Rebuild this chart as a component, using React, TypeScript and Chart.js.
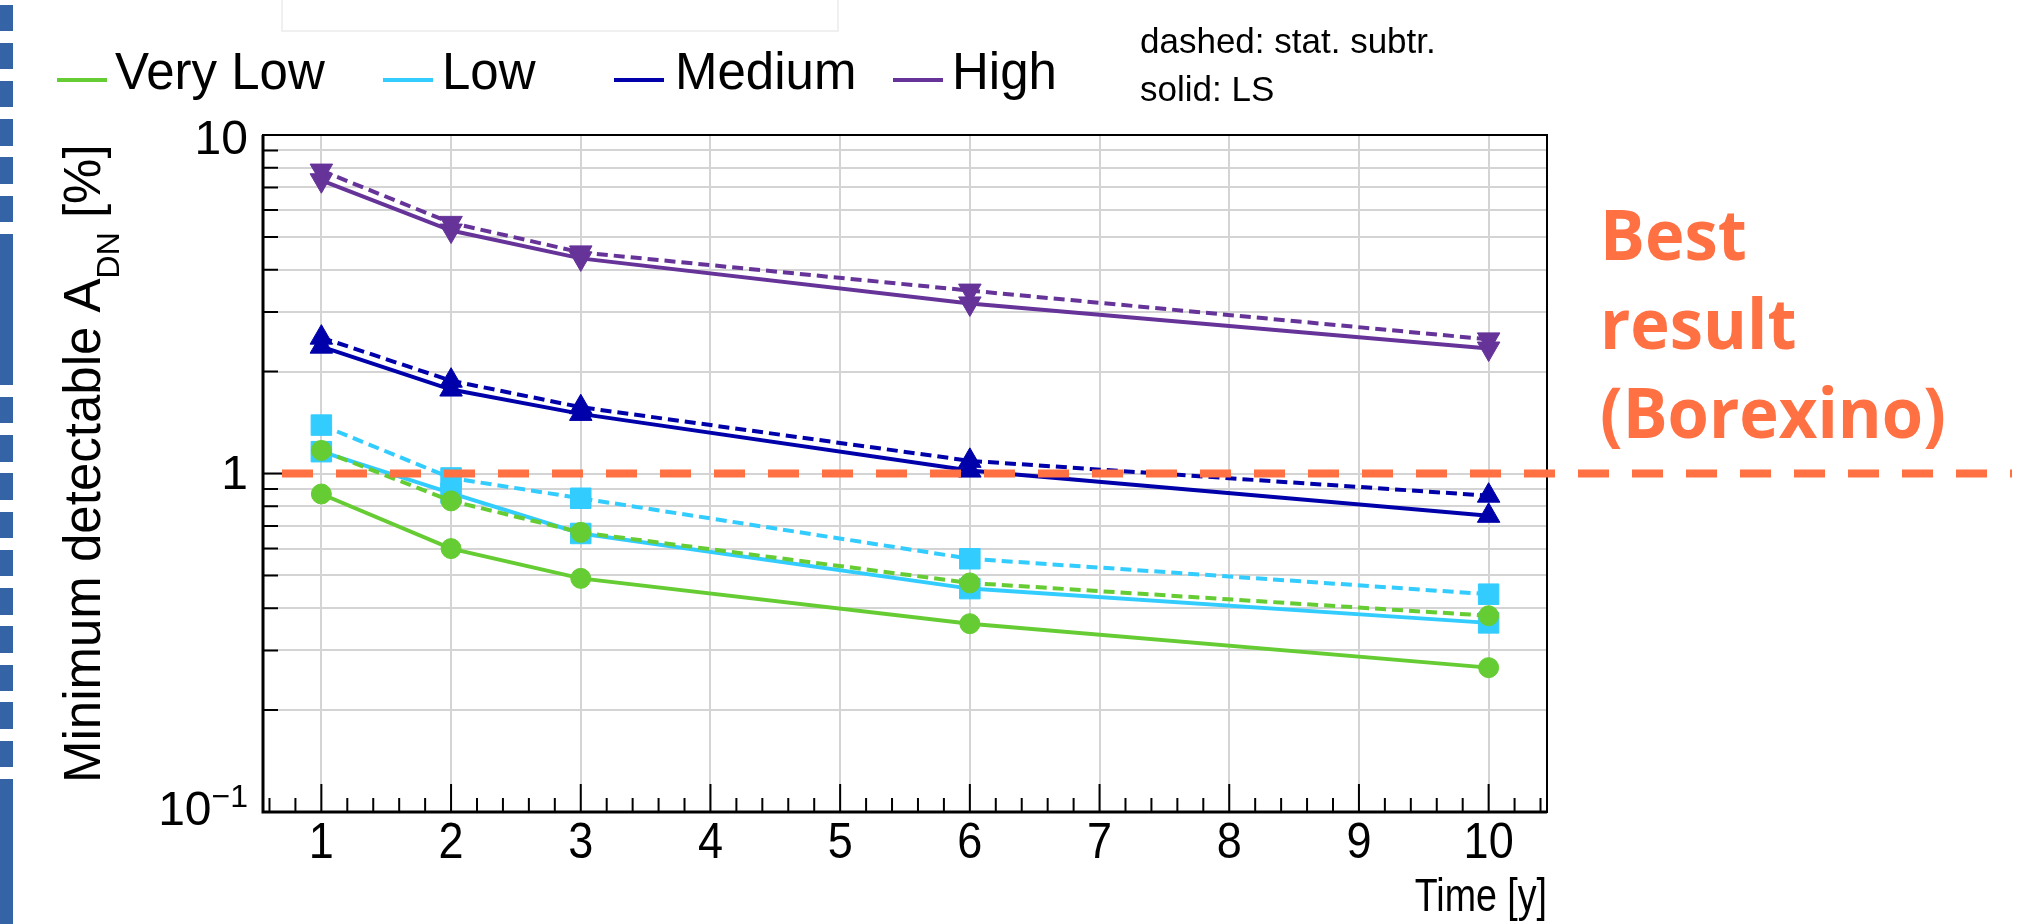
import React, { useEffect, useRef } from "react";
import { Chart, registerables } from "chart.js";

Chart.register(...registerables);

// ---------------- data ----------------
const years = [1, 2, 3, 6, 10];

const seriesNames = ["Very Low", "Low", "Medium", "High"];
const seriesColors = ["#66CC33", "#33CCFF", "#0000AA", "#663399"];

// solid: LS
const veryLowLS = [0.87, 0.6, 0.49, 0.36, 0.267];
const lowLS = [1.16, 0.875, 0.665, 0.457, 0.362];
const mediumLS = [2.37, 1.77, 1.5, 1.02, 0.75];
const highLS = [7.35, 5.22, 4.32, 3.18, 2.34];

// dashed: stat. subtr.
const veryLowStat = [1.17, 0.83, 0.67, 0.475, 0.38];
const lowStat = [1.39, 0.97, 0.845, 0.56, 0.44];
const mediumStat = [2.52, 1.88, 1.57, 1.09, 0.86];
const highStat = [7.85, 5.5, 4.5, 3.47, 2.49];

const xTickValues = [1, 2, 3, 4, 5, 6, 7, 8, 9, 10];
const xTickLabels = ["1", "2", "3", "4", "5", "6", "7", "8", "9", "10"];
const yGridValues = [
  0.1, 0.2, 0.3, 0.4, 0.5, 0.6, 0.7, 0.8, 0.9, 1, 2, 3, 4, 5, 6, 7, 8, 9, 10,
];
const yTickValues = [0.1, 1, 10];
const yTickText = ["10", "1", "10"];
const yTickSup = ["\u22121", "", ""];

const referenceValue = 1;
const referenceText = ["Best", "result", "(Borexino)"];
const yTitle = ["Minimum detectable A", "DN", " [%]"];
const xTitle = "Time [y]";
const notes = ["dashed: stat. subtr.", "solid: LS"];

const FONT = "'Liberation Sans', Arial, Helvetica, sans-serif";
const ORANGE = "#FF7043";

const W = 2027;
const H = 924;

const overlay = {
  id: "overlay",
  afterDatasetsDraw(chart: any) {
    const ctx = chart.ctx;
    const xs = chart.scales.x;
    const ys = chart.scales.y;
    const ca = chart.chartArea;
    ctx.save();

    // frame
    ctx.strokeStyle = "#000";
    ctx.lineWidth = 2;
    ctx.strokeRect(ca.left, ca.top, ca.right - ca.left, ca.bottom - ca.top);
    ctx.lineWidth = 3;
    ctx.beginPath();
    ctx.moveTo(ca.left, ca.top);
    ctx.lineTo(ca.left, ca.bottom);
    ctx.lineTo(ca.right, ca.bottom);
    ctx.stroke();

    // y ticks (inside)
    ctx.lineWidth = 2;
    ctx.beginPath();
    yGridValues.forEach((v) => {
      const py = ys.getPixelForValue(v);
      const major = yTickValues.includes(v);
      ctx.moveTo(ca.left, py);
      ctx.lineTo(ca.left + (major ? 30 : 15), py);
    });
    ctx.stroke();

    // x ticks (inside), minor every 0.2
    ctx.beginPath();
    for (let i = 3; i <= 52; i++) {
      const v = i * 0.2;
      if (v < xs.min || v > xs.max) continue;
      const px = xs.getPixelForValue(v);
      const major = Math.abs(v - Math.round(v)) < 1e-6;
      ctx.moveTo(px, ca.bottom);
      ctx.lineTo(px, ca.bottom - (major ? 28 : 14));
    }
    ctx.stroke();

    // x labels (slightly condensed)
    ctx.fillStyle = "#000";
    ctx.font = `50px ${FONT}`;
    ctx.textAlign = "center";
    ctx.textBaseline = "middle";
    xTickValues.forEach((v, i) => {
      const px = xs.getPixelForValue(v);
      ctx.save();
      ctx.translate(px, 844);
      ctx.scale(0.9, 1);
      ctx.fillText(xTickLabels[i], 0, 0);
      ctx.restore();
    });

    // y labels
    yTickValues.forEach((v, i) => {
      const py = ys.getPixelForValue(v);
      const off = v === 10 ? 6 : v === 1 ? 2 : 0;
      ctx.font = `32px ${FONT}`;
      const supW = yTickSup[i] ? ctx.measureText(yTickSup[i]).width : 0;
      ctx.font = `48px ${FONT}`;
      ctx.textAlign = "right";
      ctx.textBaseline = "middle";
      ctx.fillText(yTickText[i], 248 - supW, py + off);
      if (yTickSup[i]) {
        ctx.font = `32px ${FONT}`;
        ctx.textAlign = "left";
        ctx.fillText(yTickSup[i], 248 - supW, py + off - 14);
      }
    });

    // x title (condensed)
    ctx.save();
    ctx.translate(ca.right, 911);
    ctx.scale(0.8, 1);
    ctx.font = `47px ${FONT}`;
    ctx.textAlign = "right";
    ctx.textBaseline = "alphabetic";
    ctx.fillText(xTitle, 0, 0);
    ctx.restore();

    // y title
    ctx.save();
    ctx.translate(100, 783);
    ctx.rotate(-Math.PI / 2);
    ctx.textAlign = "left";
    ctx.textBaseline = "alphabetic";
    ctx.font = `51px ${FONT}`;
    ctx.fillText(yTitle[0], 0, 0);
    let w = ctx.measureText(yTitle[0]).width;
    ctx.font = `32px ${FONT}`;
    ctx.fillText(yTitle[1], w, 19);
    w += ctx.measureText(yTitle[1]).width;
    ctx.font = `51px ${FONT}`;
    ctx.fillText(yTitle[2], w, 0);
    ctx.restore();

    // legend
    const legX = [57, 383, 614, 893];
    const legT = [115, 442, 675, 952];
    seriesNames.forEach((name, i) => {
      ctx.strokeStyle = seriesColors[i];
      ctx.lineWidth = 4;
      ctx.setLineDash([]);
      ctx.beginPath();
      ctx.moveTo(legX[i], 80);
      ctx.lineTo(legX[i] + 50, 80);
      ctx.stroke();
      ctx.fillStyle = "#000";
      ctx.font = `51px ${FONT}`;
      ctx.textAlign = "left";
      ctx.textBaseline = "alphabetic";
      ctx.fillText(name, legT[i], 89);
    });

    // notes
    ctx.font = `35px ${FONT}`;
    ctx.fillText(notes[0], 1140, 53);
    ctx.fillText(notes[1], 1140, 101);

    // faint box at top
    ctx.strokeStyle = "#ececec";
    ctx.lineWidth = 1.5;
    ctx.beginPath();
    ctx.moveTo(282, 0);
    ctx.lineTo(282, 31);
    ctx.lineTo(838, 31);
    ctx.lineTo(838, 0);
    ctx.stroke();

    // reference line
    const ry = ys.getPixelForValue(referenceValue);
    ctx.strokeStyle = ORANGE;
    ctx.lineWidth = 8;
    ctx.setLineDash([31, 23]);
    ctx.beginPath();
    ctx.moveTo(282, ry);
    ctx.lineTo(2012, ry);
    ctx.stroke();
    ctx.setLineDash([]);

    // reference text
    ctx.fillStyle = ORANGE;
    ctx.font = `bold 70px 'Open Sans', 'Noto Sans', sans-serif`;
    ctx.textAlign = "left";
    ctx.textBaseline = "alphabetic";
    referenceText.forEach((t, i) => {
      ctx.save();
      ctx.translate(1600, 260 + i * 89);
      ctx.scale(0.955, 1);
      ctx.fillText(t, 0, 0);
      ctx.restore();
    });

    // left decorative bar
    const segs = [
      [5, 31], [43, 69], [81, 107], [119, 146], [157, 184], [196, 222],
      [234, 385], [397, 423], [435, 462], [473, 500], [512, 538], [550, 576],
      [588, 615], [626, 653], [665, 691], [702, 729], [741, 767], [779, 924],
    ];
    ctx.fillStyle = "#3464A6";
    segs.forEach(([a, b]) => ctx.fillRect(0, a, 13, b - a));

    ctx.restore();
  },
};

function makeDataset(label: string, values: number[], color: string, dashed: boolean, style: string, radius: number, rotation: number) {
  return {
    label,
    data: years.map((x, i) => ({ x, y: values[i] })),
    borderColor: color,
    backgroundColor: color,
    borderWidth: 4,
    borderDash: dashed ? [11, 6] : [],
    pointStyle: style,
    pointRadius: radius,
    pointRotation: rotation,
    pointBorderWidth: 1,
    pointBorderColor: color,
    pointBackgroundColor: color,
    tension: 0,
    fill: false,
  };
}

export default function App() {
  const ref = useRef<HTMLCanvasElement | null>(null);

  useEffect(() => {
    if (!ref.current) return;
    const styles = ["circle", "rect", "triangle", "triangle"];
    const radii = [10, 14.5, 13, 13];
    const rots = [0, 0, 0, 180];
    const ls = [veryLowLS, lowLS, mediumLS, highLS];
    const st = [veryLowStat, lowStat, mediumStat, highStat];
    const datasets: any[] = [];
    for (let i = 0; i < 4; i++) {
      datasets.push(makeDataset(seriesNames[i] + " (stat. subtr.)", st[i], seriesColors[i], true, styles[i], radii[i], rots[i]));
      datasets.push(makeDataset(seriesNames[i] + " (LS)", ls[i], seriesColors[i], false, styles[i], radii[i], rots[i]));
    }
    const chart = new Chart(ref.current, {
      type: "line",
      data: { datasets },
      options: {
        responsive: false,
        animation: false,
        devicePixelRatio: 1,
        layout: { padding: { left: 263, right: W - 1547, top: 135, bottom: H - 812 } },
        plugins: { legend: { display: false }, tooltip: { enabled: false }, title: { display: false } },
        scales: {
          x: {
            type: "linear",
            min: 0.55,
            max: 10.45,
            afterBuildTicks: (s: any) => {
              s.ticks = xTickValues.map((v) => ({ value: v }));
            },
            afterFit: (s: any) => {
              s.height = 0;
            },
            ticks: { display: false },
            grid: { color: "#d4d4d4", lineWidth: 2, drawTicks: false },
            border: { display: false },
          },
          y: {
            type: "logarithmic",
            min: 0.1,
            max: 10,
            afterBuildTicks: (s: any) => {
              s.ticks = yGridValues.map((v) => ({ value: v }));
            },
            afterFit: (s: any) => {
              s.width = 0;
            },
            ticks: { display: false },
            grid: { color: "#d4d4d4", lineWidth: 2, drawTicks: false },
            border: { display: false },
          },
        },
      },
      plugins: [overlay],
    } as any);
    return () => chart.destroy();
  }, []);

  return (
    <div style={{ position: "absolute", left: 0, top: 0, width: W, height: H, background: "#fff" }}>
      <canvas ref={ref} width={W} height={H} style={{ width: W, height: H, display: "block" }} />
    </div>
  );
}
